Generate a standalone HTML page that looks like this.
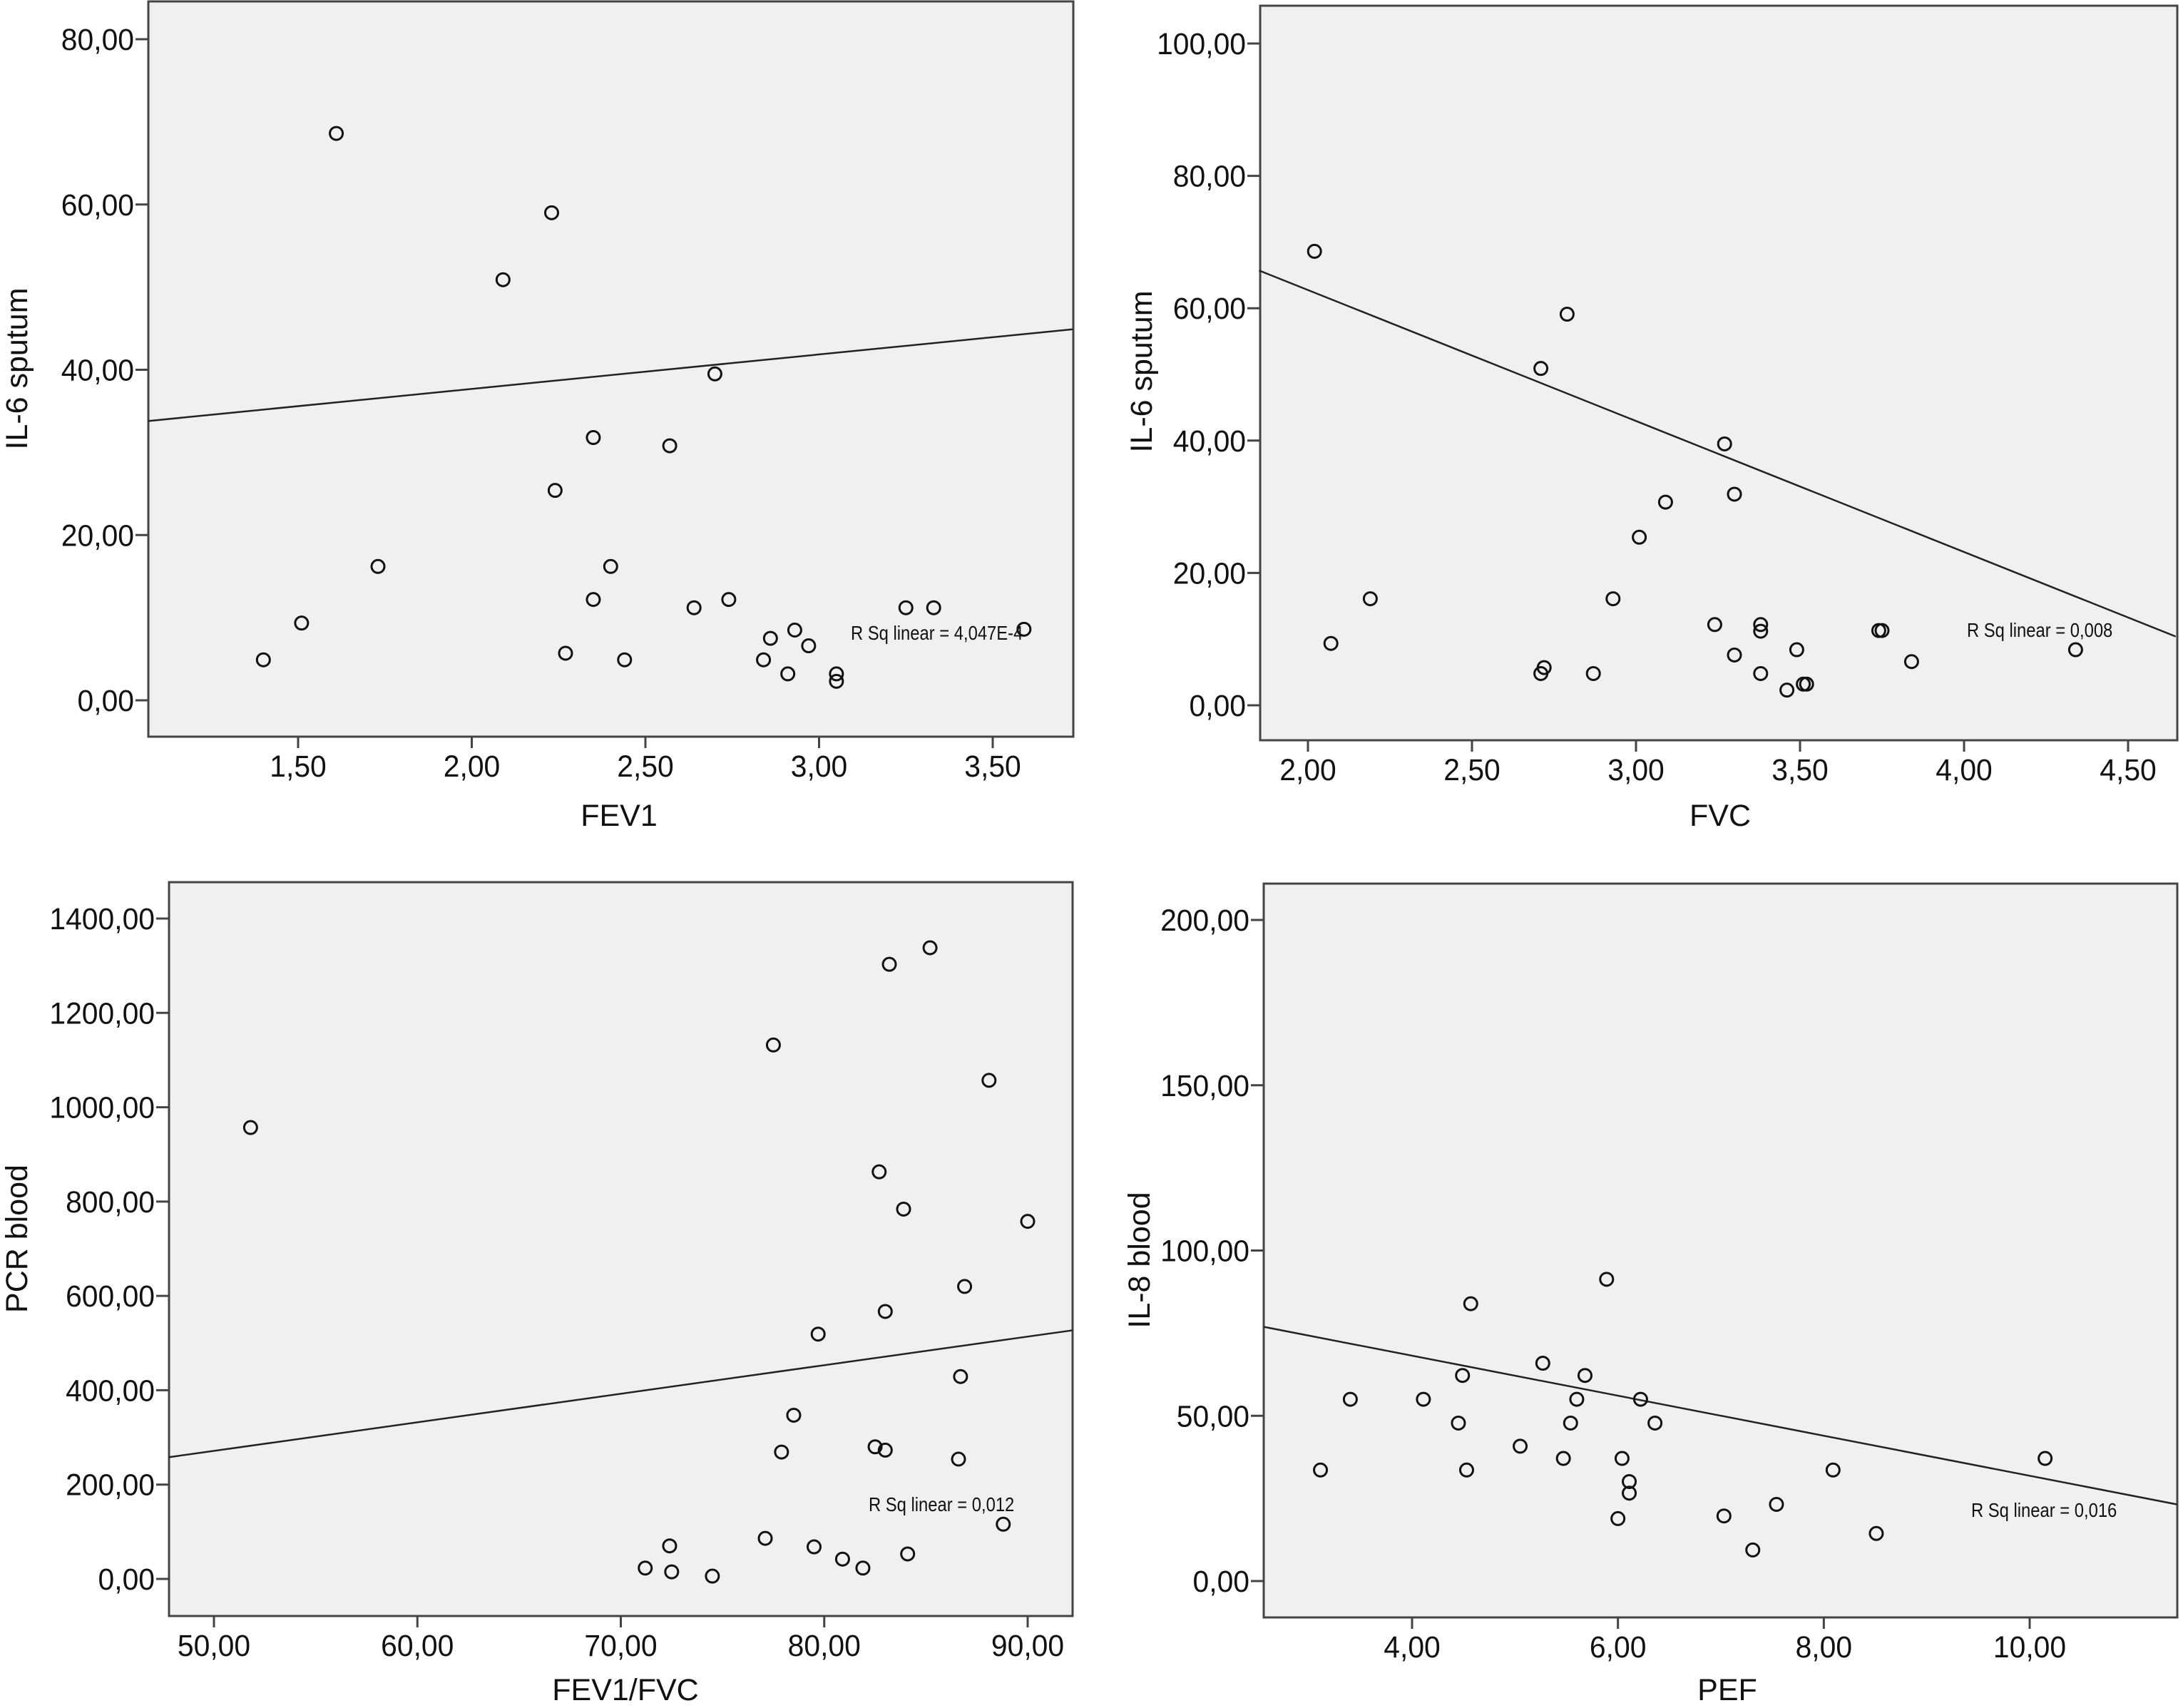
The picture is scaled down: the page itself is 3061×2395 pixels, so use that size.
<!DOCTYPE html>
<html><head><meta charset="utf-8"><style>
html,body{margin:0;padding:0;background:#fff;overflow:hidden;}
svg{display:block;}
text{font-family:"Liberation Sans",Arial,sans-serif;fill:#111;}
</style></head><body>
<svg id="chart" width="3061" height="2395" viewBox="0 0 3061 2395" xmlns="http://www.w3.org/2000/svg"></svg>
<script>
// ---- Panel 1: FEV1 vs IL-6 sputum
const p1X = [1.61,2.23,2.09,2.70,2.35,2.57,2.24,1.73,2.40,2.35,2.74,2.64,3.25,3.33,1.51,2.93,2.86,2.97,2.27,1.40,2.44,2.84,2.91,3.05,3.05,3.59];
const p1Y = [68.6,59.0,50.9,39.5,31.8,30.8,25.4,16.2,16.2,12.2,12.2,11.2,11.2,11.2,9.35,8.5,7.5,6.6,5.7,4.9,4.9,4.9,3.2,3.2,2.3,8.6];
const p1XTicks = [1.5,2.0,2.5,3.0,3.5];
const p1XTickLabels = ["1,50","2,00","2,50","3,00","3,50"];
const p1YTicks = [0,20,40,60,80];
const p1YTickLabels = ["0,00","20,00","40,00","60,00","80,00"];
const p1Fit = [1.069,33.8,3.73,44.9];
const p1R2 = "R Sq linear = 4,047E-4";

// ---- Panel 2: FVC vs IL-6 sputum
const p2X = [2.02,2.79,2.71,3.27,3.30,3.09,3.01,2.19,2.93,3.24,3.38,3.38,3.74,3.75,2.07,3.49,4.34,3.30,3.84,2.72,2.71,2.87,3.38,3.51,3.52,3.46];
const p2Y = [68.6,59.1,50.9,39.5,31.9,30.7,25.4,16.1,16.1,12.2,12.2,11.2,11.3,11.3,9.35,8.4,8.4,7.6,6.6,5.7,4.8,4.8,4.8,3.2,3.2,2.3];
const p2XTicks = [2.0,2.5,3.0,3.5,4.0,4.5];
const p2XTickLabels = ["2,00","2,50","3,00","3,50","4,00","4,50"];
const p2YTicks = [0,20,40,60,80,100];
const p2YTickLabels = ["0,00","20,00","40,00","60,00","80,00","100,00"];
const p2Fit = [1.851,65.7,4.645,10.4];
const p2R2 = "R Sq linear = 0,008";

// ---- Panel 3: FEV1/FVC vs PCR blood
const p3X = [51.8,77.5,83.2,85.2,88.1,82.7,83.9,90.0,86.9,83.0,79.7,86.7,78.5,82.5,83.0,77.9,86.6,88.8,77.1,72.4,79.5,84.1,80.9,71.2,81.9,72.5,74.5];
const p3Y = [957,1132,1303,1338,1057,863,784,758,620,567,519,429,347,280,273,269,254,116,86,70,68,53,42,23,23,15,6];
const p3XTicks = [50,60,70,80,90];
const p3XTickLabels = ["50,00","60,00","70,00","80,00","90,00"];
const p3YTicks = [0,200,400,600,800,1000,1200,1400];
const p3YTickLabels = ["0,00","200,00","400,00","600,00","800,00","1000,00","1200,00","1400,00"];
const p3Fit = [47.78,258,92.2,527];
const p3R2 = "R Sq linear = 0,012";

// ---- Panel 4: PEF vs IL-8 blood
const p4X = [5.89,4.57,5.27,4.49,5.68,3.40,4.11,5.60,6.22,4.45,5.54,6.36,5.05,5.47,6.04,10.15,3.11,4.53,8.09,6.11,6.11,7.54,7.03,6.00,8.51,7.31];
const p4Y = [91.3,83.9,65.9,62.2,62.2,55.0,55.0,55.0,55.0,47.8,47.8,47.8,40.8,37.1,37.1,37.1,33.6,33.6,33.6,30.1,26.6,23.2,19.7,18.9,14.4,9.4];
const p4XTicks = [4,6,8,10];
const p4XTickLabels = ["4,00","6,00","8,00","10,00"];
const p4YTicks = [0,50,100,150,200];
const p4YTickLabels = ["0,00","50,00","100,00","150,00","200,00"];
const p4Fit = [2.56,76.9,11.43,23.2];
const p4R2 = "R Sq linear = 0,016";

const NS = "http://www.w3.org/2000/svg";
const svg = document.getElementById('chart');
function mk(tag, attrs, parent){
  const e = document.createElementNS(NS, tag);
  for (const k in attrs) e.setAttribute(k, attrs[k]);
  (parent||svg).appendChild(e);
  return e;
}
function condText(parent, x, y, str, size, anchor, sx){
  const g = mk('g', {transform:`translate(${x},${y}) scale(${sx},1)`}, parent);
  const t = mk('text', {x:0, y:0, 'font-size':size, 'text-anchor':anchor}, g);
  t.textContent = str;
  return t;
}

function panel(name, cfg, xs, ys, xt, xtl, yt, ytl, fit, r2){
  const g = mk('g', {});
  
  
  const sx = v => cfg.xp0 + (v - cfg.xv0) * (cfg.xp1 - cfg.xp0) / (cfg.xv1 - cfg.xv0);
  const sy = v => cfg.yp0 + (v - cfg.yv0) * (cfg.yp1 - cfg.yp0) / (cfg.yv1 - cfg.yv0);
  const f = mk('rect', {x:cfg.L, y:cfg.T, width:cfg.R-cfg.L, height:cfg.B-cfg.T, fill:'#f0f0f0', stroke:'#444', 'stroke-width':3}, g);
  
  
  yt.forEach((v,i)=>{
    const y = sy(v);
    const tk = mk('line', {x1:cfg.L-18, x2:cfg.L, y1:y, y2:y, stroke:'#444', 'stroke-width':3}, g);
    
    
    const t = condText(g, cfg.L-20, y+15, ytl[i], 43, 'end', 0.95);
    
    
  });
  xt.forEach((v,i)=>{
    const x = sx(v);
    const tk = mk('line', {x1:x, x2:x, y1:cfg.B, y2:cfg.B+16, stroke:'#444', 'stroke-width':3}, g);
    
    
    const t = condText(g, x, cfg.B+56, xtl[i], 43, 'middle', 0.95);
    
    
  });
  const fl = mk('line', {x1:sx(fit[0]), y1:sy(fit[1]), x2:sx(fit[2]), y2:sy(fit[3]), stroke:'#222', 'stroke-width':2.5}, g);
  
  
  xs.forEach((v,i)=>{
    const c = mk('circle', {cx:sx(v), cy:sy(ys[i]), r:9, fill:'none', stroke:'#111', 'stroke-width':3}, g);
    
    
  });
  const rt = condText(g, cfg.rx, cfg.ry, r2, 28, 'start', 0.85);
  
  
  const xt2 = mk('text', {x:cfg.xtx, y:cfg.xty, 'font-size':43, 'text-anchor':'middle'}, g);
  xt2.textContent = cfg.xtitle;
  
  
  const yt2 = mk('text', {x:0, y:0, 'font-size':43, 'text-anchor':'middle', transform:`translate(${cfg.ytx},${cfg.yty}) rotate(-90)`}, g);
  yt2.textContent = cfg.ytitle;
  
  
}

panel('fev1-il6-panel', {L:208,R:1505,T:2,B:1033, xv0:1.5,xp0:418,xv1:3.5,xp1:1392, yv0:0,yp0:982,yv1:80,yp1:55,
  rx:1193, ry:897, xtx:868, xty:1158, ytx:38, yty:517, xtitle:'FEV1', ytitle:'IL-6 sputum'},
  p1X,p1Y,p1XTicks,p1XTickLabels,p1YTicks,p1YTickLabels,p1Fit,p1R2);
panel('fvc-il6-panel', {L:1767,R:3053,T:8,B:1038, xv0:2.0,xp0:1834,xv1:4.5,xp1:2984, yv0:0,yp0:989,yv1:100,yp1:61,
  rx:2758, ry:893, xtx:2412, xty:1158, ytx:1615, yty:521, xtitle:'FVC', ytitle:'IL-6 sputum'},
  p2X,p2Y,p2XTicks,p2XTickLabels,p2YTicks,p2YTickLabels,p2Fit,p2R2);
panel('fev1fvc-pcr-panel', {L:237,R:1504,T:1237,B:2266, xv0:50,xp0:300,xv1:90,xp1:1441, yv0:0,yp0:2214,yv1:1400,yp1:1288,
  rx:1218, ry:2119, xtx:877, xty:2384, ytx:38, yty:1737, xtitle:'FEV1/FVC', ytitle:'PCR blood'},
  p3X,p3Y,p3XTicks,p3XTickLabels,p3YTicks,p3YTickLabels,p3Fit,p3R2);
panel('pef-il8-panel', {L:1772,R:3053,T:1239,B:2268, xv0:4,xp0:1980,xv1:10,xp1:2846, yv0:0,yp0:2217,yv1:200,yp1:1290,
  rx:2764, ry:2127, xtx:2422, xty:2384, ytx:1612, yty:1767, xtitle:'PEF', ytitle:'IL-8 blood'},
  p4X,p4Y,p4XTicks,p4XTickLabels,p4YTicks,p4YTickLabels,p4Fit,p4R2);
</script>
</body></html>
